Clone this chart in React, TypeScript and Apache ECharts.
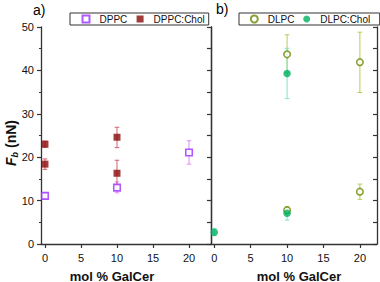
import React, { useEffect, useRef } from "react";
import * as echarts from "echarts";

// ---- data ----
const xTicks = [0, 5, 10, 15, 20];
const seriesNames = ["DPPC", "DPPC:Chol", "DLPC", "DLPC:Chol"];

// [x, y]
const dppcPts = [[0, 11.1], [10, 13.0], [20, 21.1]];
const dppcCholPts = [[0, 23.0], [0, 18.4], [10, 24.6], [10, 16.3]];
const dlpcPts = [[10, 43.7], [20, 41.9], [20, 12.05], [10, 7.8]];
const dlpcCholPts = [[10, 39.3], [0, 2.7], [10, 7.1]];

// [x, low, high]
const dppcErr = [[0, 10.4, 11.8], [10, 11.8, 14.3], [20, 18.4, 23.8]];
const dppcCholErr = [[0, 22.3, 23.7], [0, 17.2, 19.6], [10, 22.2, 26.9], [10, 13.6, 19.3]];
const dlpcErr = [[10, 39.5, 48.2], [20, 34.9, 48.8], [20, 10.3, 13.8], [10, 7.0, 8.6]];
const dlpcCholErr = [[10, 33.5, 45.1], [0, 1.9, 3.6], [10, 5.5, 8.5]];

const C = {
  dppc: "#9b30ff",
  dppcErr: "#e38cf5",
  dppcChol: "#8b0a0a",
  dppcCholErr: "#d2606e",
  dlpc: "#6a8a00",
  dlpcErr: "#b8cc55",
  dlpcChol: "#00b060",
  dlpcCholErr: "#80e6c4",
};

const AX = "#333";
const FONT = "Liberation Sans, Arial, sans-serif";

function errSeries(data: number[][], color: string, gi: number) {
  return {
    type: "custom",
    xAxisIndex: gi,
    yAxisIndex: gi === 0 ? 0 : 2,
    data,
    z: 1,
    silent: true,
    encode: { x: 0, y: [1, 2] },
    renderItem: (params: any, api: any) => {
      const x = api.value(0);
      const lo = api.value(1);
      const hi = api.value(2);
      const p1 = api.coord([x, hi]);
      const p2 = api.coord([x, lo]);
      const w = 2.3;
      const style = { stroke: color, lineWidth: 1 };
      return {
        type: "group",
        children: [
          { type: "line", shape: { x1: p1[0], y1: p1[1], x2: p2[0], y2: p2[1] }, style },
          { type: "line", shape: { x1: p1[0] - w, y1: p1[1], x2: p1[0] + w, y2: p1[1] }, style },
          { type: "line", shape: { x1: p2[0] - w, y1: p2[1], x2: p2[0] + w, y2: p2[1] }, style },
        ],
      };
    },
  };
}

function xAxis(gi: number, min: number, max: number) {
  return {
    type: "value",
    gridIndex: gi,
    min,
    max,
    axisLine: { show: true, onZero: false, lineStyle: { color: AX, width: 1.3 } },
    axisTick: { show: true, length: 4, customValues: xTicks, lineStyle: { color: AX, width: 1.2 } },
    axisLabel: { customValues: xTicks, margin: 8, fontSize: 11, color: "#111", fontFamily: FONT },
    splitLine: { show: false },
  };
}

function legend(names: string[], left: number, padding: number[], gap: number) {
  return {
    data: names,
    left,
    top: 13,
    orient: "horizontal",
    borderColor: "#333",
    borderWidth: 1,
    padding,
    itemGap: gap,
    itemWidth: 7,
    itemHeight: 7,
    textStyle: { fontSize: 10, color: "#111", fontFamily: FONT, lineHeight: 10, padding: [0, 0, 0, 5] },
  };
}

export default function App() {
  const ref = useRef<HTMLDivElement>(null);
  useEffect(() => {
    if (!ref.current) return;
    const chart = echarts.init(ref.current, undefined, { renderer: "svg" });
    const option: any = {
      animation: false,
      backgroundColor: "#fff",
      grid: [
        { left: 41, top: 27, width: 170, height: 217 },
        { left: 211, top: 27, width: 166, height: 217 },
      ],
      xAxis: [xAxis(0, -0.55, 23.05), xAxis(1, -0.45, 22.35)],
      yAxis: [
        {
          type: "value",
          gridIndex: 0,
          min: 0,
          max: 50,
          interval: 10,
          position: "left",
          axisLine: { show: true, onZero: false, lineStyle: { color: AX, width: 1.3 } },
          axisTick: { show: true, length: 4, lineStyle: { color: AX, width: 1.2 } },
          minorTick: { show: true, splitNumber: 2, length: 2, lineStyle: { color: AX, width: 1 } },
          axisLabel: { margin: 7, fontSize: 11, color: "#111", fontFamily: FONT },
          splitLine: { show: false },
        },
        {
          type: "value",
          gridIndex: 0,
          min: 0,
          max: 50,
          interval: 5,
          position: "right",
          axisLine: { show: true, onZero: false, lineStyle: { color: AX, width: 1.3 } },
          axisTick: { show: true, inside: true, length: 4, lineStyle: { color: AX, width: 1.2 } },
          axisLabel: { show: false },
          splitLine: { show: false },
        },
        {
          type: "value",
          gridIndex: 1,
          min: 0,
          max: 50,
          interval: 10,
          position: "left",
          axisLine: { show: true, onZero: false, lineStyle: { color: AX, width: 1.3 } },
          axisTick: { show: false },
          axisLabel: { show: false },
          splitLine: { show: false },
        },
        {
          type: "value",
          gridIndex: 1,
          min: 0,
          max: 50,
          interval: 5,
          position: "right",
          axisLine: { show: true, onZero: false, lineStyle: { color: AX, width: 1.3 } },
          axisTick: { show: true, inside: true, length: 4, lineStyle: { color: AX, width: 1.2 } },
          axisLabel: { show: false },
          splitLine: { show: false },
        },
      ],
      legend: [
        legend([seriesNames[0], seriesNames[1]], 70, [1, 4, 1, 11.5], 9.3),
        legend([seriesNames[2], seriesNames[3]], 239, [1, 9.5, 1, 10.8], 8.7),
      ],
      graphic: [
        { type: "text", left: 33, top: 3, style: { text: "a)", font: "14px " + FONT, fill: "#000" } },
        { type: "text", left: 216, top: 2, style: { text: "b)", font: "14px " + FONT, fill: "#000" } },
        {
          type: "text",
          x: 112,
          y: 276,
          style: { text: "mol % GalCer", font: "bold 13px " + FONT, fill: "#111", align: "center", verticalAlign: "middle" },
        },
        {
          type: "text",
          x: 299,
          y: 276,
          style: { text: "mol % GalCer", font: "bold 13px " + FONT, fill: "#111", align: "center", verticalAlign: "middle" },
        },
        {
          type: "text",
          x: 11,
          y: 143,
          rotation: Math.PI / 2,
          style: {
            text: "{f|F}{s|b}{n| (nN)}",
            align: "center",
            verticalAlign: "middle",
            rich: {
              f: { fontSize: 14, fontWeight: "bold", fontStyle: "italic", fontFamily: FONT, fill: "#111", lineHeight: 17, verticalAlign: "middle" },
              s: { fontSize: 9, fontWeight: "bold", fontStyle: "italic", fontFamily: FONT, fill: "#111", lineHeight: 17, verticalAlign: "bottom" },
              n: { fontSize: 14, fontWeight: "bold", fontFamily: FONT, fill: "#111", lineHeight: 17, verticalAlign: "middle" },
            },
          },
        },
      ],
      series: [
        errSeries(dppcErr, C.dppcErr, 0),
        errSeries(dppcCholErr, C.dppcCholErr, 0),
        errSeries(dlpcErr, C.dlpcErr, 1),
        errSeries(dlpcCholErr, C.dlpcCholErr, 1),
        {
          name: seriesNames[0],
          type: "scatter",
          xAxisIndex: 0,
          yAxisIndex: 0,
          data: dppcPts,
          symbol: "rect",
          symbolSize: 6.5,
          z: 3,
          itemStyle: { color: "#fff", borderColor: C.dppc, borderWidth: 1.6 },
        },
        {
          name: seriesNames[1],
          type: "scatter",
          xAxisIndex: 0,
          yAxisIndex: 0,
          data: dppcCholPts,
          symbol: "rect",
          symbolSize: 7,
          z: 3,
          itemStyle: { color: C.dppcChol },
        },
        {
          name: seriesNames[2],
          type: "scatter",
          xAxisIndex: 1,
          yAxisIndex: 2,
          data: dlpcPts,
          symbol: "circle",
          symbolSize: 6.5,
          z: 3,
          itemStyle: { color: "#fff", borderColor: C.dlpc, borderWidth: 1.6 },
        },
        {
          name: seriesNames[3],
          type: "scatter",
          xAxisIndex: 1,
          yAxisIndex: 2,
          data: dlpcCholPts,
          symbol: "circle",
          symbolSize: 7.5,
          z: 4,
          itemStyle: { color: C.dlpcChol },
        },
      ],
    };
    chart.setOption(option);
    return () => chart.dispose();
  }, []);
  return <div ref={ref} style={{ width: 380, height: 282, position: "absolute", left: 0, top: 0 }} />;
}
